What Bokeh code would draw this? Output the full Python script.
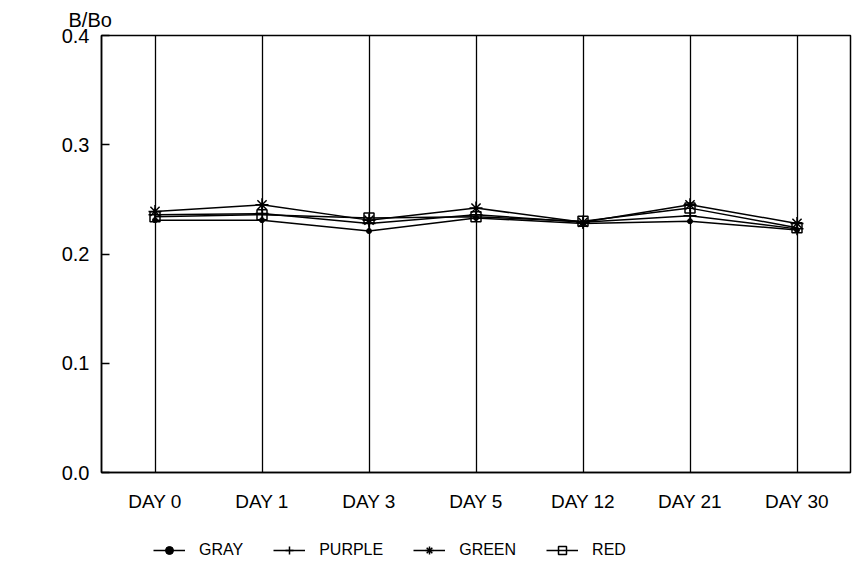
from bokeh.plotting import figure
from bokeh.layouts import column
from bokeh.models import FactorRange, Legend, LegendItem, FixedTicker, ColumnDataSource, Range1d
from bokeh.embed import file_html
from bokeh.resources import INLINE

days = ["DAY 0", "DAY 1", "DAY 3", "DAY 5", "DAY 12", "DAY 21", "DAY 30"]
gray = [0.231, 0.231, 0.221, 0.233, 0.228, 0.230, 0.222]
purple = [0.236, 0.237, 0.228, 0.236, 0.229, 0.235, 0.223]
green = [0.239, 0.245, 0.231, 0.242, 0.229, 0.245, 0.228]
red = [0.234, 0.236, 0.233, 0.234, 0.230, 0.242, 0.224]
y_ticks = [0.0, 0.1, 0.2, 0.3, 0.4]

FONT = "Liberation Sans"

x_range = FactorRange(factors=days, range_padding=0)

p = figure(width=856, height=520, output_backend="svg", toolbar_location=None,
           x_range=x_range, y_range=(0.0, 0.4),
           min_border_left=101, min_border_right=6, min_border_top=35, min_border_bottom=48)
p.background_fill_color = "white"
p.border_fill_color = "white"
p.outline_line_color = "black"
p.outline_line_width = 1.5

p.title.text = "B/Bo"
p.title.align = "left"
p.title.offset = -33
p.title.text_font = FONT
p.title.text_font_size = "20px"
p.title.text_font_style = "normal"
p.title.text_color = "black"
p.title.standoff = 9

p.ygrid.grid_line_color = None
p.xgrid.grid_line_color = "black"
p.xgrid.grid_line_width = 1.3

for ax in (p.xaxis[0], p.yaxis[0]):
    ax.axis_line_color = "black"
    ax.axis_line_width = 1.5
    ax.minor_tick_line_color = None
    ax.major_label_text_font = FONT
    ax.major_label_text_color = "black"

p.yaxis.ticker = FixedTicker(ticks=y_ticks)
p.yaxis.major_label_overrides = {t: f"{t:.1f}" for t in y_ticks}
p.yaxis.major_tick_in = 8
p.yaxis.major_tick_out = 0
p.yaxis.major_tick_line_width = 1.3
p.yaxis.major_label_text_font_size = "20px"
p.yaxis.major_label_standoff = 12

p.xaxis.major_tick_line_color = None
p.xaxis.major_tick_out = 0
p.xaxis.major_tick_in = 0
p.xaxis.major_label_text_font_size = "19px"
p.xaxis.major_label_standoff = 18

# legend-only strip below the chart (its frame aligns with the main frame);
# its y range lies far above the data, so the lines there are clipped away
lg = figure(width=856, height=48, output_backend="svg", toolbar_location=None,
            x_axis_type=None, y_axis_type=None, x_range=x_range, y_range=Range1d(10, 11),
            min_border=0)
lg.outline_line_color = None
lg.grid.grid_line_color = None
lg.background_fill_color = "white"
lg.border_fill_color = "white"

series = [("GRAY", gray, "circle"), ("PURPLE", purple, "cross"),
          ("GREEN", green, "asterisk"), ("RED", red, "square")]
items = []
for name, vals, marker in series:
    src = ColumnDataSource(dict(x=days, y=vals))
    p.line("x", "y", source=src, line_color="black", line_width=1.5)
    l = lg.line("x", "y", source=src, line_color="black", line_width=1.5)
    if marker == "circle":
        kw = dict(marker="circle", size=5, fill_color="black", line_color="black")
    elif marker == "square":
        kw = dict(marker="square", size=10, fill_color=None, line_color="black", line_width=1.5)
    else:
        kw = dict(marker=marker, size=13, line_color="black", line_width=1.5)
    p.scatter("x", "y", source=src, **kw)
    m = lg.scatter("x", "y", source=src, **kw)
    items.append(LegendItem(label=name, renderers=[l, m]))

legend = Legend(items=items, orientation="horizontal", location=(52, 8),
                glyph_width=32, glyph_height=20, label_standoff=14, spacing=30,
                padding=0, margin=0, border_line_color=None, background_fill_alpha=0,
                label_text_font=FONT, label_text_font_size="16px", label_text_color="black")
lg.add_layout(legend, "center")

open("out.html", "w").write(file_html(column(p, lg, spacing=0), INLINE))
